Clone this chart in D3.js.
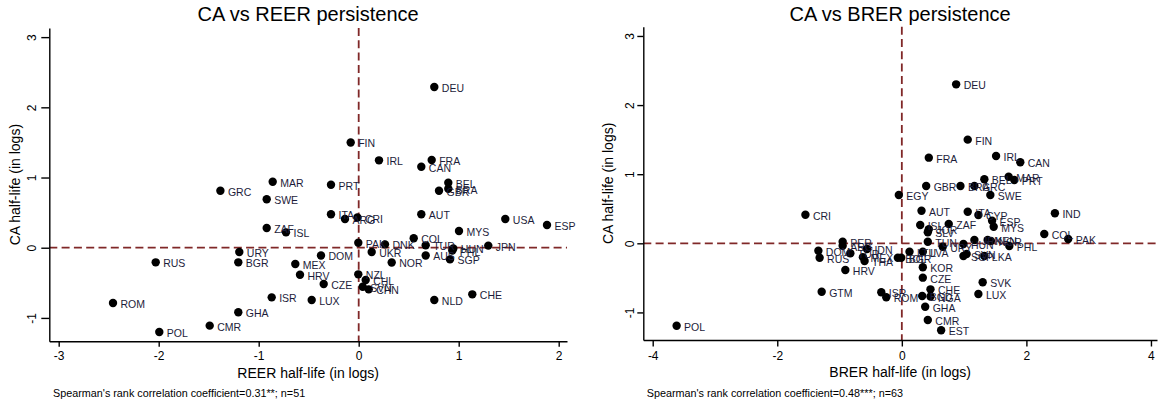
<!DOCTYPE html>
<html><head><meta charset="utf-8">
<script src="https://cdn.jsdelivr.net/npm/d3@7"></script>
<style>
body{margin:0;background:#fff}
svg{display:block}
text{font-family:"Liberation Sans",Arial,Helvetica,sans-serif}
</style>
</head><body>
<svg id="c" width="1159" height="404"></svg>
<script>
// ---------- DATA ----------
const reerCountries = ["DEU","FIN","IRL","FRA","CAN","PRT","BEL","GBR","BRA","AUT","ITA","ARG","CRI","USA","ESP","MYS","COL","PAK","DNK","TUR","HUN","PHL","JPN","AUS","SGP","UKR","DOM","NOR","MEX","HRV","CZE","NZL","CHL","SVN","CHN","LUX","NLD","CHE","ISR","GHA","CMR","POL","ROM","RUS","URY","BGR","ZAF","ISL","SWE","GRC","MAR"];
const reerX = [0.756,-0.08,0.203,0.73,0.626,-0.277,0.896,0.803,0.896,0.626,-0.277,-0.137,-0.013,1.466,1.883,1.003,0.55,-0.004,0.263,0.67,0.946,0.936,1.296,0.67,0.913,0.13,-0.377,0.33,-0.634,-0.587,-0.35,-0.004,0.07,0.04,0.10,-0.47,0.756,1.136,-0.87,-1.204,-1.49,-1.994,-2.457,-2.03,-1.194,-1.204,-0.92,-0.727,-0.92,-1.383,-0.86];
const reerY = [2.29,1.50,1.245,1.25,1.154,0.897,0.926,0.812,0.84,0.476,0.476,0.41,0.43,0.41,0.323,0.238,0.134,0.071,0.048,0.034,-0.01,-0.04,0.03,-0.11,-0.166,-0.06,-0.11,-0.21,-0.232,-0.384,-0.517,-0.379,-0.46,-0.555,-0.593,-0.745,-0.745,-0.664,-0.707,-0.92,-1.11,-1.20,-0.788,-0.208,-0.061,-0.208,0.28,0.219,0.69,0.812,0.94];

const brerCountries = ["DEU","FIN","FRA","IRL","CAN","MAR","PRT","BEL","GBR","BRA","GRC","EGY","SWE","AUT","ITA","CYP","IND","ESP","MYS","ZAF","ISL","JOR","SLV","COL","PAK","TUN","URY","HUN","JPN","KEN","NOR","PHL","LTU","LVA","SGP","SVN","LKA","KOR","CZE","SVK","LUX","CHE","BGD","NGA","GHA","CMR","EST","ISR","ROM","PER","ARG","DOM","RUS","TUR","IDN","MEX","THA","HRV","GTM","BOL","BGR","POL","CRI"];
const brerX = [0.872,1.058,0.433,1.513,1.902,1.715,1.806,1.325,0.391,0.941,1.165,-0.048,1.421,0.316,1.058,1.229,2.458,1.449,1.475,0.753,0.295,0.433,0.417,2.287,2.671,0.417,0.657,0.989,1.165,1.378,1.43,1.726,0.123,0.337,0.989,1.04,1.325,0.337,0.337,1.298,1.229,0.46,0.327,0.46,0.375,0.417,0.631,-0.33,-0.25,-0.95,-0.95,-1.34,-1.32,-0.827,-0.56,-0.625,-0.598,-0.907,-1.287,-0.064,-0.01,-3.616,-1.548];
const brerY = [2.30,1.50,1.239,1.263,1.172,0.964,0.916,0.926,0.829,0.829,0.829,0.699,0.699,0.472,0.457,0.41,0.434,0.327,0.24,0.279,0.265,0.203,0.159,0.135,0.062,0.023,-0.049,-0.01,0.048,0.048,0.033,-0.039,-0.121,-0.121,-0.184,-0.155,-0.184,-0.347,-0.497,-0.564,-0.734,-0.666,-0.763,-0.77,-0.917,-1.11,-1.259,-0.709,-0.781,0.023,-0.035,-0.107,-0.208,-0.145,-0.082,-0.2,-0.256,-0.386,-0.70,-0.208,-0.208,-1.192,0.414];

const reerXTicks = [-3,-2,-1,0,1,2];
const brerXTicks = [-4,-2,0,2,4];
const yTicks = [-1,0,1,2,3];
const titles = ["CA vs REER persistence","CA vs BRER persistence"];
const xTitles = ["REER half-life (in logs)","BRER half-life (in logs)"];
const yTitle = "CA half-life (in logs)";
const notes = ["Spearman's rank correlation coefficient=0.31**; n=51","Spearman's rank correlation coefficient=0.48***; n=63"];

// ---------- DRAW ----------
const svg = d3.select("#c");
const refColor = "#802828";
const labelColor = "#1c1c3a";

function panel(cfg){
  const x = d3.scaleLinear().domain(cfg.xDom).range([cfg.left, cfg.right]);
  const y = d3.scaleLinear().domain(cfg.yDom).range([cfg.bottom, cfg.top]);
  const g = svg.append("g");

  // reference lines
  g.append("line").attr("x1", x(0)).attr("x2", x(0)).attr("y1", cfg.top).attr("y2", cfg.bottom)
    .attr("stroke", refColor).attr("stroke-width", 1.8).attr("stroke-dasharray", "8,4.3");
  g.append("line").attr("x1", cfg.left).attr("x2", cfg.right).attr("y1", y(0)).attr("y2", y(0))
    .attr("stroke", refColor).attr("stroke-width", 1.8).attr("stroke-dasharray", "8,4.3");

  // x axis
  const xa = g.append("g").attr("transform", `translate(0,${cfg.bottom})`)
    .call(d3.axisBottom(x).tickValues(cfg.xTicks).tickSize(cfg.xTick).tickSizeOuter(0).tickPadding(cfg.xPad).tickFormat(d => String(d)));
  xa.selectAll("path,line").attr("stroke", "#000").attr("stroke-width", 1.4);
  xa.selectAll("text").attr("fill", "#000").style("font-size", "12px");

  // y axis
  const ya = g.append("g").attr("transform", `translate(${cfg.left},0)`)
    .call(d3.axisLeft(y).tickValues(yTicks).tickSize(cfg.yTick).tickSizeOuter(0).tickFormat(d => String(d)));
  ya.selectAll("path,line").attr("stroke", "#000").attr("stroke-width", 1.4);
  ya.selectAll("text").attr("fill", "#000").style("font-size", "12px")
    .attr("transform", "rotate(-90)").attr("text-anchor", "middle")
    .attr("x", 0).attr("y", -cfg.yLabD).attr("dy", "0.35em");

  // points
  const data = cfg.names.map((n, i) => ({n, x: cfg.xs[i], y: cfg.ys[i]}));
  g.append("g").selectAll("circle").data(data).join("circle")
    .attr("cx", d => x(d.x)).attr("cy", d => y(d.y)).attr("r", 4.2).attr("fill", "#000");
  g.append("g").selectAll("text").data(data).join("text")
    .attr("x", d => x(d.x) + 7.5).attr("y", d => y(d.y) + 5)
    .attr("fill", labelColor).style("font-size", "10.5px").text(d => d.n);

  // titles
  const cx = (cfg.left + cfg.right) / 2;
  g.append("text").attr("x", cx).attr("y", cfg.titleY).attr("text-anchor", "middle")
    .style("font-size", "20px").attr("fill", "#000").text(cfg.title);
  g.append("text").attr("x", cx).attr("y", cfg.xTitleY).attr("text-anchor", "middle")
    .style("font-size", "14px").attr("fill", "#000").text(cfg.xTitle);
  g.append("text").attr("transform", `translate(${cfg.yTitleX},${(cfg.top + cfg.bottom) / 2}) rotate(-90)`)
    .attr("text-anchor", "middle").style("font-size", "14px").attr("fill", "#000").text(yTitle);
  g.append("text").attr("x", cfg.noteX).attr("y", 397)
    .style("font-size", "10.8px").attr("fill", "#000").text(cfg.note);
}

panel({
  names: reerCountries, xs: reerX, ys: reerY,
  xDom: [-3.094, 2.083], yDom: [-1.333, 3.13],
  left: 49.3, right: 567, top: 28, bottom: 341.3,
  xTicks: reerXTicks, xTick: 5.5, xPad: 5, yTick: 8, yLabD: 17.6,
  title: titles[0], xTitle: xTitles[0], note: notes[0],
  titleY: 21, xTitleY: 378.3, yTitleX: 20, noteX: 53
});
panel({
  names: brerCountries, xs: brerX, ys: brerY,
  xDom: [-4.151, 4.097], yDom: [-1.399, 3.134],
  left: 643.3, right: 1157, top: 26.7, bottom: 340,
  xTicks: brerXTicks, xTick: 6.5, xPad: 5, yTick: 6, yLabD: 13.3,
  title: titles[1], xTitle: xTitles[1], note: notes[1],
  titleY: 21, xTitleY: 377, yTitleX: 613.3, noteX: 646.7
});
</script>
</body></html>
